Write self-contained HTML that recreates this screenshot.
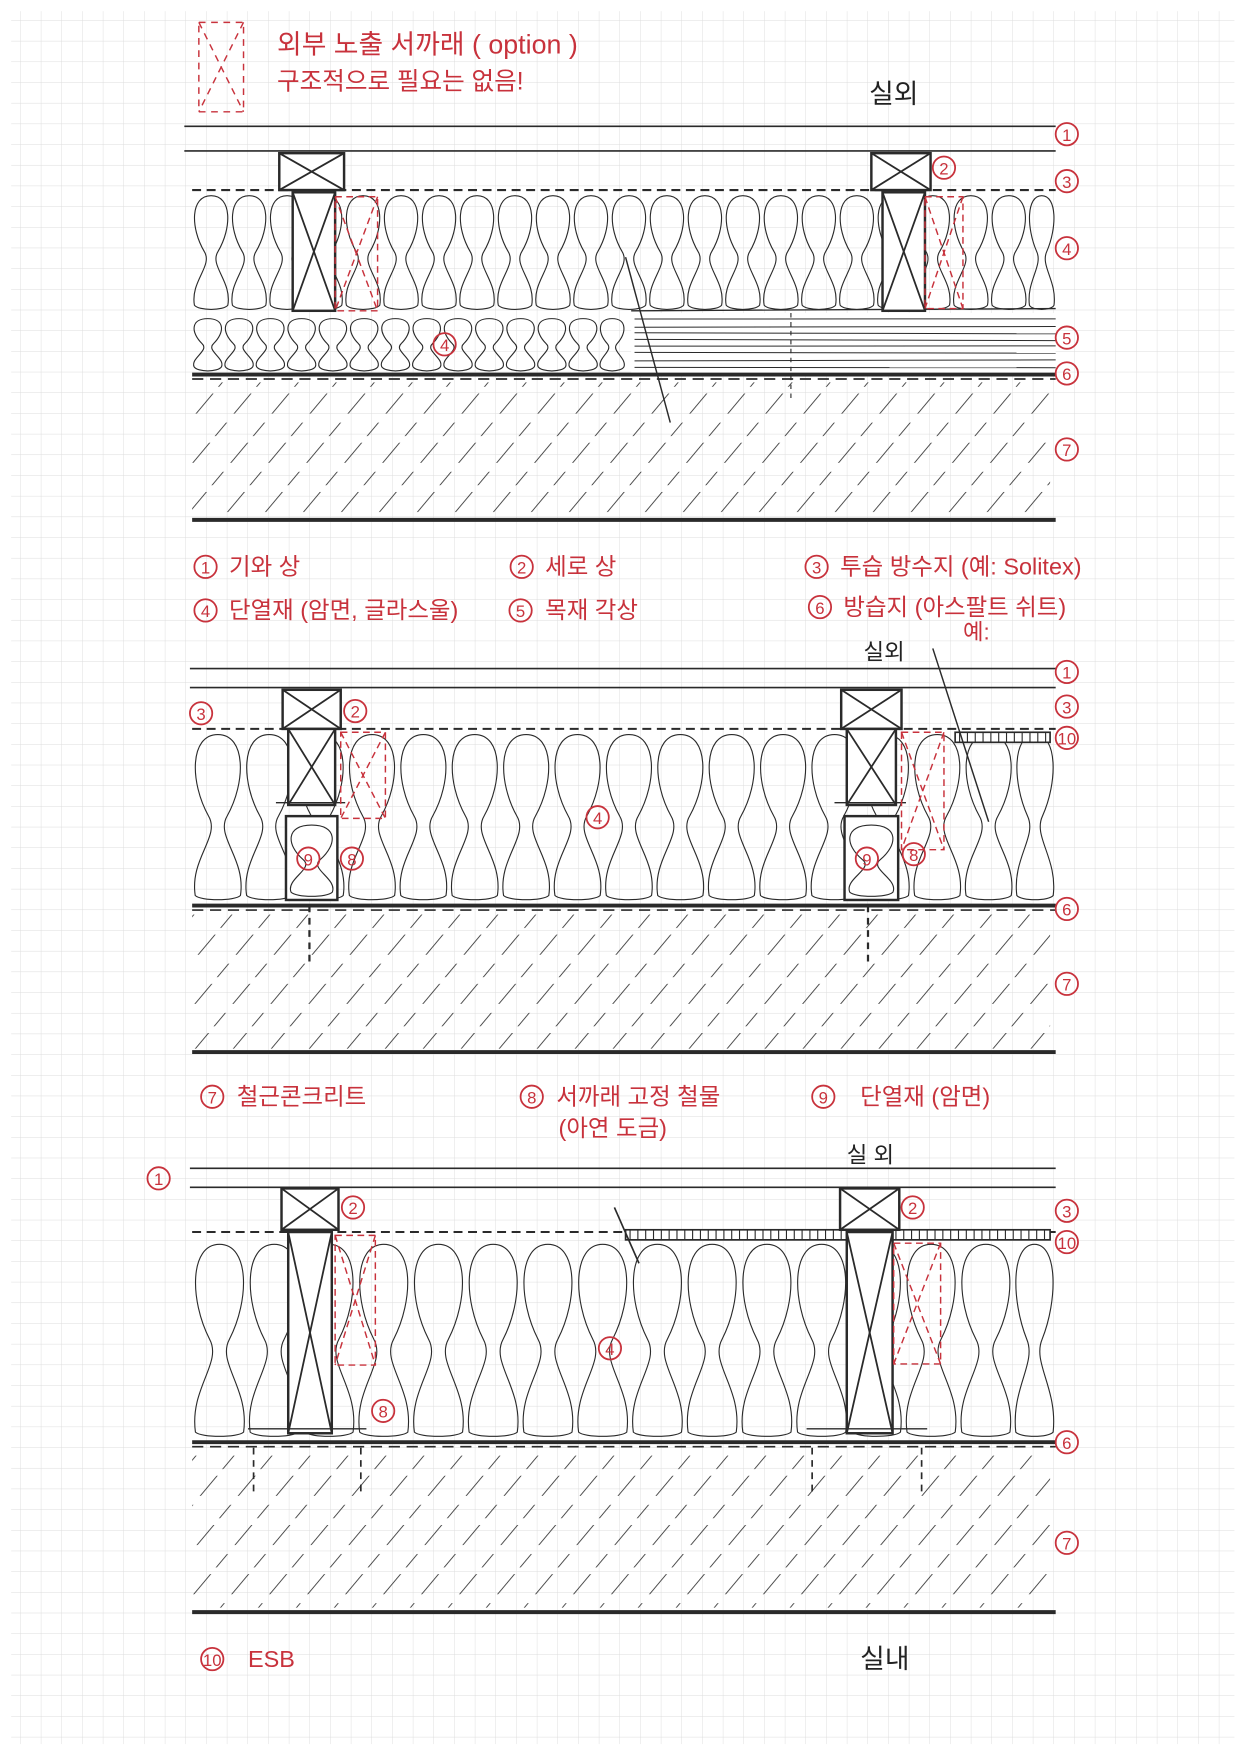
<!DOCTYPE html>
<html><head><meta charset="utf-8"><style>
html,body{margin:0;padding:0;background:#fff}
svg{display:block}
.r{font-family:"Liberation Sans","Noto Sans CJK KR",sans-serif;fill:#c8323c;font-size:21px}
.k{font-family:"Liberation Sans","Noto Sans CJK KR",sans-serif;fill:#222;font-size:24px}
</style></head><body>
<svg id="s" width="1240" height="1753" viewBox="0 0 1110 1568" preserveAspectRatio="none" xmlns="http://www.w3.org/2000/svg">
<defs>
<pattern id="g" width="18.5" height="18.5" patternUnits="userSpaceOnUse"><path d="M18.5 0V18.5H0" fill="none" stroke="#dcdcdc" stroke-width="0.8"/></pattern>
<pattern id="h" width="34" height="44" patternUnits="userSpaceOnUse" patternTransform="skewX(-40)"><line x1="10" y1="0" x2="10" y2="44" stroke="#333" stroke-width="1" stroke-dasharray="18 8 12 6"/></pattern>
</defs>
<rect width="1110" height="1568" fill="#fff"/>
<rect x="10" y="10" width="1095" height="1550" fill="url(#g)"/>
<g id="d" fill="none" stroke="#2a2a2a" stroke-width="1.3"></g>
<g id="t"></g>
</svg>
<script>
const NS="http://www.w3.org/2000/svg",d=document.getElementById('d'),t=document.getElementById('t');
function el(n,a,p){const e=document.createElementNS(NS,n);for(const k in a)e.setAttribute(k,a[k]);(p||d).appendChild(e);return e;}
function L(x1,y1,x2,y2,w,c,da){el('line',{x1,y1,x2,y2,'stroke-width':w||1.3,stroke:c||'#2a2a2a','stroke-dasharray':da||''});}
function ins(x0,x1,y0,y1,w){const h=y1-y0;for(let x=x0;x<x1-4;x+=w){const ww=Math.min(w,x1-x),c=x+ww/2,a=ww*0.55,n=ww*0.18;
 const p=`M${c},${y0+3} C${c+a},${y0+3} ${c+a},${y0+h*0.3} ${c+n},${y0+h*0.5} C${c-n*0.3},${y0+h*0.62} ${c+a},${y0+h*0.75} ${c+a*0.8},${y1-5} C${c+a*0.6},${y1} ${c-a*0.6},${y1} ${c-a*0.8},${y1-5} C${c-a},${y0+h*0.75} ${c+n*0.3},${y0+h*0.62} ${c-n},${y0+h*0.5} C${c-a},${y0+h*0.3} ${c-a},${y0+3} ${c},${y0+3}Z`;
 el('path',{d:p,'stroke-width':1});}}
function conc(y0,y1){el('rect',{x:172,y:y0,width:768,height:y1-y0,fill:'url(#h)',stroke:'none'});}
function xbox(x,y,w,h,c,da,sw){el('rect',{x,y,width:w,height:h,stroke:c||'#2a2a2a','stroke-width':sw||2.2,'stroke-dasharray':da||'',fill:c?'none':'#fff'});L(x,y,x+w,y+h,sw||1.6,c,da);L(x+w,y,x,y+h,sw||1.6,c,da);}
function circ(n,x,y){el('circle',{cx:x,cy:y,r:10,stroke:'#c8323c','stroke-width':1.6,fill:'none'});const e=el('text',{x:x,y:y+6,'text-anchor':'middle',class:'r',style:'font-size:15px'},t);e.textContent=n;}
function tx(s,x,y,c,fs){const e=el('text',{x,y,class:c||'r'},t);if(fs)e.style.fontSize=fs+'px';e.textContent=s;}
function esb(x0,x1,y){el('rect',{x:x0,y:y,width:x1-x0,height:9,'stroke-width':1.5,fill:'#fff'});for(let x=x0+4;x<x1;x+=7)L(x,y,x,y+9,1);}
// Panel 1
L(165,113,945,113,1.5);L(165,135,945,135,1.5);
ins(172,945,172,278,34);ins(172,560,282,333,28);
L(172,170,945,170,1.8,null,'8 5');
el('rect',{x:565,y:280,width:380,height:54,fill:'#fff',stroke:'none'});
for(let y=285;y<332;y+=6)L(568,y+Math.random()*2,945,y+Math.random()*2,0.9);
L(565,278,945,276,1.2);
L(172,335,945,335,3.5);L(172,339,945,339,1.5,null,'10 6');
conc(342,463);L(172,465,945,465,3.5);
xbox(250,137,58,33);xbox(780,137,53,33);
xbox(262,172,38,106);xbox(790,172,38,106);
xbox(300,176,38,102,'#c8323c','6 4',1.3);xbox(828,176,34,100,'#c8323c','6 4',1.3);
L(560,230,600,378,1.3);L(708,280,708,360,1,null,'4 4');
// Panel 2
L(170,598,945,598,1.5);L(170,615,945,615,1.5);
ins(172,945,654,806,46);
L(172,652,945,652,1.8,null,'8 5');
L(172,810,945,810,3.5);L(172,814,945,814,1.5,null,'10 6');
conc(817,938);L(172,941,945,941,3.5);
for(const [x,w] of [[253,52],[753,54]]){xbox(x,617,w,35);xbox(x+5,652,w-10,68);
 el('rect',{x:x+3,y:730,width:w-6,height:75,fill:'#fff','stroke-width':2.2});ins(x+5,x+w-5,735,803,w-10);
 L(x-6,718,x+w+4,718,1.2);L(x+24,810,x+24,860,2,null,'6 5');}
xbox(305,655,40,77,'#c8323c','6 4',1.3);xbox(807,655,38,105,'#c8323c','6 4',1.3);
esb(855,940,655);L(835,580,885,735,1.3);
// Panel 3
L(170,1045,945,1045,1.5);L(170,1062,945,1062,1.5);
ins(172,945,1110,1286,49);
L(172,1102,945,1102,1.8,null,'8 5');
esb(560,940,1100);
L(172,1290,945,1290,3.5);L(172,1294,945,1294,1.5,null,'10 6');
conc(1297,1438);L(172,1442,945,1442,3.5);
for(const [x,w] of [[252,51],[752,53]]){xbox(x,1063,w,37);xbox(x+6,1102,w-12,180);
 L(x-30,1278,x+w+25,1278,1.2);L(x-25,1295,x-25,1335,1.5,null,'6 5');L(x+w+20,1295,x+w+20,1335,1.5,null,'6 5');}
xbox(300,1105,36,116,'#c8323c','6 4',1.3);xbox(800,1112,42,108,'#c8323c','6 4',1.3);
L(550,1080,572,1130,1.5);
// top note
xbox(178,20,40,80,'#c8323c','6 5',1.3);
tx('외부 노출 서까래 ( option )',248,48,'r',24);tx('구조적으로 필요는 없음!',248,80,'r',22);
tx('실외',778,92,'k');tx('실외',773,590,'k',20);tx('실 외',758,1040,'k',20);tx('실내',770,1492,'k');
[['1',955,120],['2',845,150],['3',955,162],['4',955,222],['5',955,302],['6',955,334],['7',955,402],
 ['1',955,601],['2',318,636],['3',955,632],['10',955,660],['6',955,813],['7',955,880],['3',180,638],['4',535,731],['8',315,768],['9',276,768],['8',818,764],['9',776,768],
 ['1',142,1054],['2',817,1080],['2',316,1080],['3',955,1083],['10',955,1111],['6',955,1290],['7',955,1380],['4',546,1206],['8',343,1262],['4',398,308]].forEach(a=>circ(...a));
circ('1',184,507);tx('기와 상',205,514);circ('2',467,507);tx('세로 상',488,514);circ('3',731,507);tx('투습 방수지 (예: Solitex)',752,514);
circ('4',184,546);tx('단열재 (암면, 글라스울)',205,553);circ('5',466,546);tx('목재 각상',488,553);circ('6',734,543);tx('방습지 (아스팔트 쉬트)',755,550);tx('예:',862,572,'r',20);
circ('7',190,981);tx('철근콘크리트',212,988);circ('8',476,981);tx('서까래 고정 철물',498,988);tx('(아연 도금)',500,1016);circ('9',737,981);tx('단열재 (암면)',770,988);
circ('10',190,1484);tx('ESB',222,1491);
</script>
</body></html>
